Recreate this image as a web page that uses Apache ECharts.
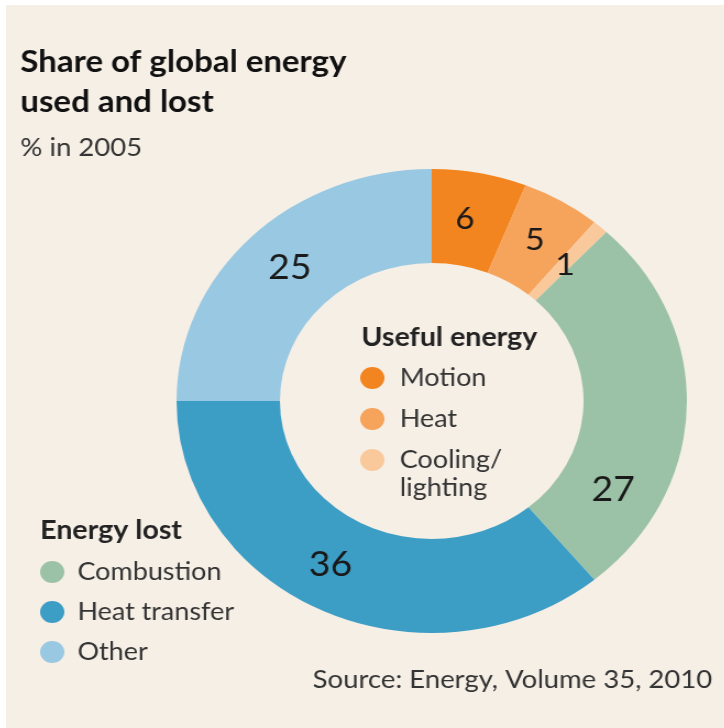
<!DOCTYPE html>
<html><head><meta charset="utf-8">
<script src="https://cdn.jsdelivr.net/npm/echarts@6/dist/echarts.min.js"></script>
<style>
html,body{margin:0;padding:0;background:#ffffff;overflow:hidden;}
#wrap{position:absolute;left:6px;top:5px;width:718px;height:723px;background:#f6efe6;overflow:hidden;}
#c{position:absolute;left:0;top:0;width:653px;height:723px;transform:scaleX(1.1);transform-origin:0 0;}
</style>
</head><body><div id="wrap"><div id="c"></div></div>
<script>
const categories = ['Motion', 'Heat', 'Cooling/lighting', 'Combustion', 'Heat transfer', 'Other'];
const values = [6, 5, 1, 27, 36, 25];
const usefulItems = ['Motion', 'Heat', 'Cooling/lighting'];
const lostItems = ['Combustion', 'Heat transfer', 'Other'];
const colors = ['#f2851f', '#f6a35b', '#f9c99c', '#9bc2a6', '#3c9dc5', '#98c8e2'];
const labelSizes = [30, 31, 31, 34, 34, 34];
const labelNudge = [[-5, 3], [-2, 1], [-3, 5], [-23, 83], [-12, -6], [4, 0]];

const chart = echarts.init(document.getElementById('c'));
const font = 'Lato, "Open Sans", sans-serif';
chart.setOption({
  backgroundColor: 'transparent',
  animation: false,
  title: [
    { text: 'Share of global energy\nused and lost', left: 13, top: 37, padding: 0,
      textStyle: { fontFamily: font, fontSize: 30, fontWeight: 'bold', color: '#111', lineHeight: 40 } },
    { text: '% in 2005', left: 13, top: 128, padding: 0,
      textStyle: { fontFamily: font, fontSize: 25, fontWeight: 'normal', color: '#333', lineHeight: 30 } },
    { text: 'Useful energy', left: 323, top: 318, padding: 0,
      textStyle: { fontFamily: font, fontSize: 26, fontWeight: 'bold', color: '#222', lineHeight: 30 } },
    { text: 'Energy lost', left: 31, top: 511, padding: 0,
      textStyle: { fontFamily: font, fontSize: 26, fontWeight: 'bold', color: '#222', lineHeight: 30 } },
    { text: 'Source: Energy, Volume 35, 2010', right: 11, top: 660, padding: 0,
      textStyle: { fontFamily: font, fontSize: 25, fontWeight: 'normal', color: '#333', lineHeight: 30 } }
  ],
  legend: [
    { orient: 'vertical', left: 322, top: 331, padding: 0, icon: 'circle', itemWidth: 24, itemHeight: 22, itemGap: -43,
      selectedMode: false,
      data: usefulItems,
      formatter: n => n === 'Cooling/lighting' ? ' \nCooling/\nlighting' : ' \n' + n + '\n ',
      textStyle: { fontFamily: font, fontSize: 24.5, color: '#333', lineHeight: 28, padding: [0, 0, 0, 8] } },
    { orient: 'vertical', left: 31, top: 553, padding: 0, icon: 'circle', itemWidth: 24, itemHeight: 22, itemGap: 12,
      selectedMode: false,
      data: lostItems,
      textStyle: { fontFamily: font, fontSize: 24.5, color: '#333', lineHeight: 28, padding: [0, 0, 0, 6] } }
  ],
  series: [{
    type: 'pie',
    center: [387, 396],
    radius: [138, 232],
    startAngle: 90,
    clockwise: true,
    silent: true,
    label: { show: true, position: 'inside', fontFamily: font, color: '#1a1a1a' },
    labelLine: { show: false },
    labelLayout: p => ({ dx: labelNudge[p.dataIndex][0], dy: labelNudge[p.dataIndex][1] }),
    data: categories.map((n, i) => ({
      name: n, value: values[i],
      itemStyle: { color: colors[i] },
      label: { formatter: String(values[i]), fontSize: labelSizes[i] }
    }))
  }]
});
</script></body></html>
